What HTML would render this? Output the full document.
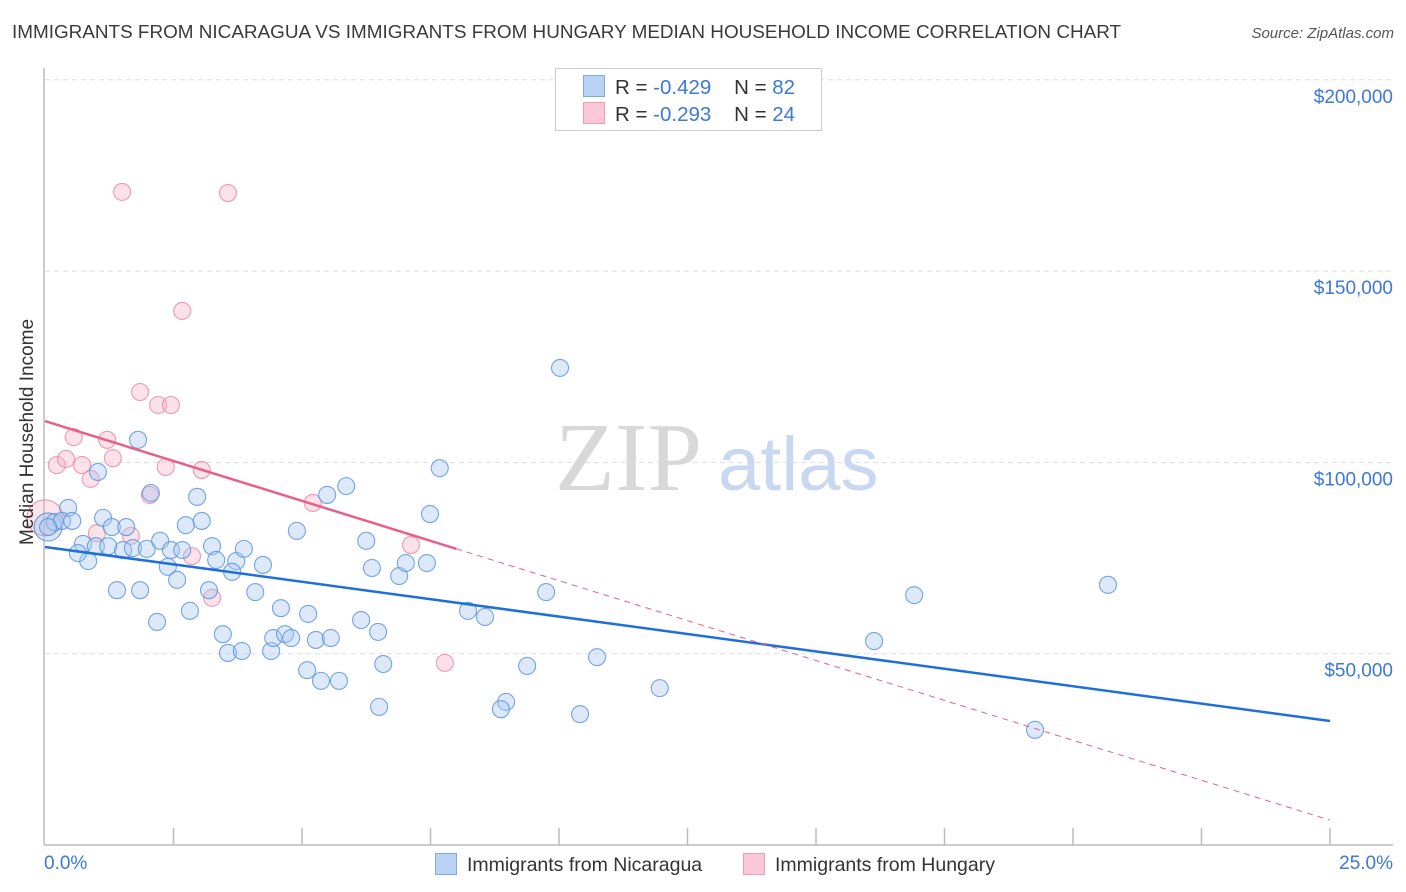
<!DOCTYPE html>
<html><head><meta charset="utf-8"><style>
body{margin:0;background:#fff;font-family:"Liberation Sans",sans-serif;}
#wrap{position:relative;width:1406px;height:892px;overflow:hidden;}
.t{position:absolute;white-space:nowrap;}
</style></head><body>
<div id="wrap">
<div class="t" style="left:12px;top:22px;font-size:18.9px;color:#3a3a3a;">IMMIGRANTS FROM NICARAGUA VS IMMIGRANTS FROM HUNGARY MEDIAN HOUSEHOLD INCOME CORRELATION CHART</div>
<div class="t" style="right:12px;top:25px;font-size:15px;color:#555;font-style:italic;">Source: ZipAtlas.com</div>
<svg id="svg" width="1406" height="892" style="position:absolute;left:0;top:0"></svg>
</div>
<script>
const xTicks=[0,2.5,5,7.5,10,12.5,15,17.5,20,22.5,25];
const yTicks=[50,100,150,200];
const yTickLabels=["$50,000","$100,000","$150,000","$200,000"];
const blueX=[0.45,0.19,0.33,0.53,0.06,1.03,1.13,0.74,0.84,0.64,0.99,1.30,1.58,1.23,1.52,1.71,1.98,1.81,1.40,1.85,2.06,2.24,2.39,2.45,2.67,2.57,2.18,2.74,2.96,3.05,3.25,3.33,2.82,3.19,3.46,3.56,3.72,3.64,3.87,3.83,4.09,4.24,4.40,4.59,4.44,4.67,4.79,4.90,5.12,5.10,5.27,5.37,5.56,5.72,5.49,5.86,6.25,6.15,6.36,6.48,6.58,6.50,6.89,7.02,7.43,7.49,7.68,8.23,8.56,8.97,8.87,9.38,9.75,10.02,10.41,10.74,11.96,16.13,16.91,20.68,19.26];
const blueY=[88.1,84.4,84.7,84.7,83.1,97.5,85.5,78.7,74.2,76.3,78.1,83.1,83.1,78.1,77.1,77.6,77.4,105.9,66.6,66.6,92.0,79.5,72.7,77.1,77.1,69.3,58.3,83.6,91.0,84.7,78.1,74.5,61.2,66.6,55.1,50.2,74.2,71.4,77.4,50.7,66.1,73.2,50.7,61.9,54.1,55.1,54.1,82.1,60.4,45.7,53.6,42.9,54.1,42.9,91.5,93.8,79.5,58.8,72.4,55.7,47.3,36.1,70.3,73.7,73.7,86.5,98.5,61.2,59.6,37.4,35.5,46.8,66.1,124.7,34.2,49.1,41.0,53.3,65.3,68.0,30.1];
const pinkX=[1.50,3.56,2.67,1.85,2.20,2.45,0.56,1.21,0.23,0.41,0.72,1.32,0.89,2.35,3.05,2.04,1.01,1.67,2.86,3.25,5.21,7.12,7.78];
const pinkY=[170.7,170.4,139.6,118.4,115.0,115.0,106.6,105.9,99.3,100.9,99.3,101.1,95.7,98.8,98.0,91.5,81.5,80.8,75.5,64.6,89.4,78.4,47.6];
const blueTrend=[77.9,32.4];
const pinkTrend=[110.8,6.5];
const pinkSolidEnd=8.0;

const X=v=>45+v*51.4;
const Y=v=>845-v*3.826;
const svg=document.getElementById('svg');
const NS='http://www.w3.org/2000/svg';
function mk(tag,at){const e=document.createElementNS(NS,tag);for(const k in at)e.setAttribute(k,at[k]);svg.appendChild(e);return e;}
yTicks.forEach((v,i)=>{
  const g=mk('line',{x1:45,x2:1393,y1:Y(v),y2:Y(v),stroke:'#ddd','stroke-dasharray':'5,4'});
  
  
  const t=mk('text',{x:1393,y:Y(v)+23,'text-anchor':'end','font-size':19,fill:'#3b78d8','font-family':'Liberation Sans, sans-serif'});
  t.textContent=yTickLabels[i];
  
  
});
let a=mk('line',{x1:44,x2:44,y1:68,y2:845,stroke:'#bbb','stroke-width':1.5});


a=mk('line',{x1:44,x2:1393,y1:845,y2:845,stroke:'#bbb','stroke-width':1.5});


xTicks.forEach(v=>{if(v===0)return;
  const l=mk('line',{x1:X(v),x2:X(v),y1:828,y2:845,stroke:'#bbb','stroke-width':1.5});
  
  
});
let w=mk('text',{x:555,y:490,'font-size':98,fill:'#d8d8d8','font-family':'Liberation Serif, serif'});w.textContent='ZIP';


w=mk('text',{x:718,y:490,'font-size':76,fill:'#c8d8f0','font-family':'Liberation Sans, sans-serif'});w.textContent='atlas';


function pts(xs,ys,fill,stroke,name){xs.forEach((x,i)=>{
  const c=mk('circle',{cx:X(x),cy:Y(ys[i]),r:8.5,fill:fill,'fill-opacity':0.4,stroke:stroke,'stroke-width':1.1,'stroke-opacity':0.85});
  
  
});}
let big=mk('circle',{cx:X(0),cy:Y(85.5),r:18,fill:'#f4a6bd','fill-opacity':0.3,stroke:'#e88aa6','stroke-width':1});


big=mk('circle',{cx:X(0.06),cy:Y(83.1),r:14,fill:'#a9c8f0','fill-opacity':0.45,stroke:'#5b95e0','stroke-width':1});


pts(pinkX,pinkY,'#f6b3c6','#e98aa8','hungary-point');
pts(blueX,blueY,'#a9c8f0','#5b95e0','nicaragua-point');
let tl=mk('line',{x1:X(0),y1:Y(blueTrend[0]),x2:X(25),y2:Y(blueTrend[1]),stroke:'#1f6fd8','stroke-width':2.5});


const pAt=x=>pinkTrend[0]+(pinkTrend[1]-pinkTrend[0])*x/25;
tl=mk('line',{x1:X(0),y1:Y(pinkTrend[0]),x2:X(pinkSolidEnd),y2:Y(pAt(pinkSolidEnd)),stroke:'#e8608a','stroke-width':2.5});


tl=mk('line',{x1:X(pinkSolidEnd),y1:Y(pAt(pinkSolidEnd)),x2:X(25),y2:Y(pinkTrend[1]),stroke:'#e8608a','stroke-width':1,'stroke-dasharray':'6,5'});


</script>
<div class="t" style="left:-62px;top:444px;font-size:19px;color:#333;transform:rotate(-90deg);width:180px;text-align:center;">Median Household Income</div>
<div class="t" style="left:44px;top:853px;font-size:19px;color:#3b78d8;">0.0%</div>
<div class="t" style="right:13px;top:853px;font-size:19px;color:#3b78d8;">25.0%</div>
<div style="position:absolute;left:555px;top:68px;width:265px;height:61px;border:1px solid #ccc;background:#fff;font-size:20.5px;color:#333;">
 <div style="position:absolute;left:27px;top:6px;white-space:nowrap;"><span style="display:inline-block;width:20px;height:20px;background:#b9d3f5;border:1px solid #7ea9e6;vertical-align:-3px;margin-right:10px;"></span>R = <span style="color:#3b78d8">-0.429</span>&nbsp;&nbsp;&nbsp; N = <span style="color:#3b78d8">82</span></div>
 <div style="position:absolute;left:27px;top:33px;white-space:nowrap;"><span style="display:inline-block;width:20px;height:20px;background:#fac8d6;border:1px solid #ee9cb6;vertical-align:-3px;margin-right:10px;"></span>R = <span style="color:#3b78d8">-0.293</span>&nbsp;&nbsp;&nbsp; N = <span style="color:#3b78d8">24</span></div>
</div>
<div class="t" style="left:435px;top:853px;font-size:19.5px;color:#333;"><span style="display:inline-block;width:20px;height:20px;background:#b9d3f5;border:1px solid #7ea9e6;vertical-align:-4px;margin-right:10px;"></span>Immigrants from Nicaragua</div>
<div class="t" style="left:743px;top:853px;font-size:19.5px;color:#333;"><span style="display:inline-block;width:20px;height:20px;background:#fac8d6;border:1px solid #ee9cb6;vertical-align:-4px;margin-right:10px;"></span>Immigrants from Hungary</div>
</body></html>
